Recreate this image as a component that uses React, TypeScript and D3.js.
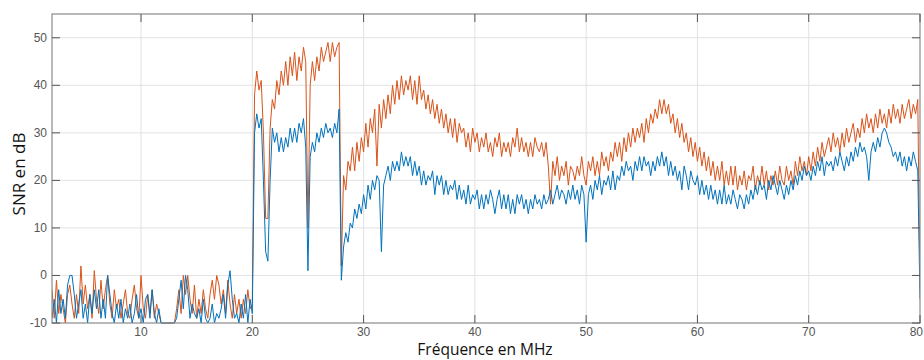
import React from "react";
import * as d3 from "d3";

// Sampling grid of the measurement (MHz)
const F_START = 2;
const F_STEP = 0.2;

// Orange series (SNR in dB), one row per MHz (5 samples each)
const orangeSNR: number[] = [
  -3, -9, -1, -8, -4, // 2
  -7, -10, -4, -2, -6, // 3
  -9, -4, -8, 2, -6, // 4
  -2, -7, -4, -9, 1, // 5
  -5, -8, -1, -7, -3, // 6
  0, -6, -9, -3, -7, // 7
  -5, -9, -6, -3, -8, // 8
  -9, -5, -2, -7, -9, // 9
  0, -7, -9, -4, -8, // 10
  -3, -9, -6, -8, -10, // 11
  -10, -10, -10, -10, -10, // 12
  -10, -7, -3, -8, 0, // 13
  -4, 0, -5, -8, -2, // 14
  -9, -5, -8, -3, -7, // 15
  -9, -4, -1, -5, 0, // 16
  -2, -6, -3, -8, -1, // 17
  -6, -9, -4, -8, -5, // 18
  -9, -5, -8, -3, -7, // 19
  -6, 38, 43, 39, 41, // 20
  30, 12, 12, 31, 37, // 21
  35, 41, 38, 43, 40, // 22
  45, 40, 46, 42, 47, // 23
  41, 46, 43, 48, 45, // 24
  10, 40, 45, 41, 46, // 25
  43, 48, 45, 47, 49, // 26
  45, 49, 46, 48, 49, // 27
  2, 21, 18, 24, 22, // 28
  27, 22, 28, 24, 29, // 29
  26, 32, 27, 33, 30, // 30
  35, 23, 36, 31, 37, // 31
  33, 38, 34, 40, 36, // 32
  41, 37, 42, 38, 41, // 33
  39, 42, 37, 41, 36, // 34
  42, 37, 39, 35, 38, // 35
  34, 37, 33, 36, 32, // 36
  35, 31, 34, 30, 33, // 37
  29, 33, 28, 32, 30, // 38
  31, 27, 30, 26, 31, // 39
  28, 30, 26, 29, 27, // 40
  30, 26, 28, 25, 29, // 41
  27, 30, 25, 28, 26, // 42
  28, 25, 29, 27, 31, // 43
  26, 29, 26, 28, 25, // 44
  28, 25, 29, 27, 26, // 45
  28, 25, 28, 23, 15, // 46
  24, 21, 25, 20, 23, // 47
  21, 24, 19, 23, 22, // 48
  20, 23, 21, 25, 21, // 49
  19, 24, 22, 25, 21, // 50
  24, 21, 26, 23, 25, // 51
  22, 26, 24, 28, 25, // 52
  28, 24, 29, 26, 30, // 53
  27, 31, 28, 31, 29, // 54
  32, 28, 33, 30, 34, // 55
  32, 35, 33, 37, 34, // 56
  37, 34, 36, 32, 34, // 57
  30, 33, 29, 32, 28, // 58
  30, 26, 29, 25, 28, // 59
  24, 27, 23, 26, 22, // 60
  25, 21, 24, 20, 23, // 61
  20, 24, 19, 22, 19, // 62
  23, 19, 23, 18, 21, // 63
  19, 22, 18, 21, 20, // 64
  23, 18, 21, 19, 23, // 65
  19, 22, 18, 21, 19, // 66
  22, 19, 23, 20, 19, // 67
  23, 20, 22, 19, 24, // 68
  21, 25, 22, 24, 21, // 69
  25, 22, 26, 23, 27, // 70
  24, 28, 25, 27, 29, // 71
  26, 30, 27, 29, 26, // 72
  30, 27, 31, 28, 30, // 73
  32, 28, 31, 29, 33, // 74
  30, 34, 31, 33, 30, // 75
  34, 31, 35, 32, 34, // 76
  31, 35, 32, 36, 33, // 77
  35, 32, 36, 33, 35, // 78
  37, 33, 36, 34, 37, // 79
  -3, // 80
];

// Blue series (SNR in dB), one row per MHz (5 samples each)
const blueSNR: number[] = [
  -9, -5, -10, -3, -8, // 2
  -5, -9, -2, 0, 0, // 3
  -4, -9, -6, -3, -9, // 4
  -6, -10, -4, -8, -3, // 5
  -7, -3, -9, -5, -9, // 6
  0, -4, -8, -10, -6, // 7
  -9, -5, -10, -7, -9, // 8
  -6, -10, -8, -4, -9, // 9
  -7, -10, -5, -4, -9, // 10
  -3, -8, -10, -7, -10, // 11
  -10, -10, -10, -10, -10, // 12
  -10, -9, -5, -1, -7, // 13
  0, -3, -9, -6, -8, // 14
  -9, -7, -10, -5, -9, // 15
  -10, -9, -6, -10, -8, // 16
  -9, -7, -4, -9, -2, // 17
  1, -5, -9, -8, -10, // 18
  -6, -9, -4, -10, -5, // 19
  -8, 30, 34, 31, 33, // 20
  20, 5, 3, 20, 31, // 21
  28, 30, 26, 29, 26, // 22
  29, 27, 31, 28, 31, // 23
  28, 32, 30, 33, 27, // 24
  1, 25, 28, 26, 30, // 25
  28, 31, 29, 32, 30, // 26
  31, 29, 32, 30, 35, // 27
  -1, 6, 9, 7, 11, // 28
  10, 14, 12, 15, 13, // 29
  17, 14, 19, 16, 20, // 30
  18, 21, 20, 5, 19, // 31
  21, 23, 20, 24, 22, // 32
  24, 22, 26, 23, 25, // 33
  23, 25, 21, 24, 21, // 34
  23, 19, 22, 19, 21, // 35
  20, 22, 17, 21, 19, // 36
  21, 17, 20, 17, 19, // 37
  18, 20, 16, 19, 16, // 38
  18, 15, 19, 15, 17, // 39
  16, 18, 14, 17, 14, // 40
  17, 15, 18, 16, 13, // 41
  16, 18, 14, 17, 14, // 42
  17, 13, 16, 13, 17, // 43
  15, 17, 14, 16, 13, // 44
  16, 14, 17, 15, 16, // 45
  14, 17, 15, 16, 18, // 46
  15, 17, 19, 16, 18, // 47
  17, 15, 18, 16, 19, // 48
  16, 18, 15, 19, 17, // 49
  7, 17, 19, 16, 20, // 50
  18, 21, 17, 20, 19, // 51
  21, 18, 22, 18, 21, // 52
  20, 23, 21, 24, 22, // 53
  23, 20, 24, 22, 25, // 54
  22, 25, 23, 24, 21, // 55
  24, 22, 25, 23, 26, // 56
  23, 25, 21, 24, 21, // 57
  23, 20, 22, 18, 23, // 58
  21, 18, 22, 20, 19, // 59
  21, 17, 20, 17, 19, // 60
  16, 19, 16, 18, 15, // 61
  18, 15, 19, 15, 17, // 62
  15, 18, 16, 14, 17, // 63
  16, 14, 17, 15, 18, // 64
  16, 19, 17, 20, 18, // 65
  19, 16, 20, 18, 21, // 66
  19, 17, 20, 18, 16, // 67
  19, 17, 20, 18, 21, // 68
  19, 22, 20, 23, 21, // 69
  22, 20, 23, 21, 24, // 70
  22, 25, 21, 24, 23, // 71
  24, 22, 25, 23, 26, // 72
  24, 22, 25, 23, 26, // 73
  24, 27, 25, 28, 26, // 74
  27, 25, 20, 26, 28, // 75
  26, 29, 27, 30, 31, // 76
  30, 28, 27, 25, 26, // 77
  24, 26, 23, 25, 22, // 78
  25, 23, 26, 24, 22, // 79
  -5, // 80
];

const xTicks = [10, 20, 30, 40, 50, 60, 70, 80];
const yTicks = [-10, 0, 10, 20, 30, 40, 50];
const xLabel = "Fréquence en MHz";
const yLabel = "SNR en dB";

const W = 924;
const H = 360;
const M = { left: 52, right: 920, top: 14, bottom: 323 };

export default function App() {
  const x = d3.scaleLinear().domain([2, 80]).range([M.left, M.right]);
  const y = d3.scaleLinear().domain([-10, 55]).range([M.bottom, M.top]);

  const mk = (vals: number[]) =>
    d3
      .line<number>()
      .x((_, i) => x(F_START + i * F_STEP))
      .y((v) => y(v))(vals) || "";

  const axisColor = "#8a8a8a";
  const gridColor = "#e2e2e2";
  const tickLen = 8;
  const tickFont = "'Liberation Sans', Arial, sans-serif";

  return (
    <svg
      width={W}
      height={H}
      style={{ position: "absolute", left: 0, top: 0, background: "#fff" }}
    >
      <defs>
        <clipPath id="plotclip">
          <rect x={M.left} y={M.top - 1} width={M.right - M.left} height={M.bottom - M.top + 2} />
        </clipPath>
      </defs>
      {/* grid */}
      {xTicks
        .filter((t) => t < 80)
        .map((t) => (
          <line key={"gx" + t} x1={x(t)} x2={x(t)} y1={M.top} y2={M.bottom} stroke={gridColor} strokeWidth={1} />
        ))}
      {yTicks
        .filter((t) => t > -10)
        .map((t) => (
          <line key={"gy" + t} x1={M.left} x2={M.right} y1={y(t)} y2={y(t)} stroke={gridColor} strokeWidth={1} />
        ))}
      {/* series */}
      <g clipPath="url(#plotclip)" fill="none" strokeWidth={1} strokeLinejoin="round">
        <path d={mk(orangeSNR)} stroke="#D95319" />
        <path d={mk(blueSNR)} stroke="#0072BD" />
      </g>
      {/* box */}
      <rect
        x={M.left}
        y={M.top}
        width={M.right - M.left}
        height={M.bottom - M.top}
        fill="none"
        stroke={axisColor}
        strokeWidth={1.2}
      />
      {/* ticks */}
      {xTicks.map((t) => (
        <g key={"xt" + t}>
          <line x1={x(t)} x2={x(t)} y1={M.bottom} y2={M.bottom - tickLen} stroke="#555" />
          <line x1={x(t)} x2={x(t)} y1={M.top} y2={M.top + tickLen} stroke="#555" />
          <text
            x={x(t)}
            y={M.bottom + 13}
            textAnchor={t === 80 ? "end" : "middle"}
            dx={t === 80 ? 3 : 0}
            fontFamily={tickFont}
            fontSize={12}
            fill="#555"
          >
            {t}
          </text>
        </g>
      ))}
      {yTicks.map((t) => (
        <g key={"yt" + t}>
          <line x1={M.left} x2={M.left + tickLen} y1={y(t)} y2={y(t)} stroke="#555" />
          <line x1={M.right} x2={M.right - tickLen} y1={y(t)} y2={y(t)} stroke="#555" />
          <text
            x={M.left - 5}
            y={y(t) + 4}
            textAnchor="end"
            fontFamily={tickFont}
            fontSize={12}
            fill="#555"
          >
            {t}
          </text>
        </g>
      ))}
      {/* axis labels */}
      <text
        x={485}
        y={355}
        textAnchor="middle"
        fontFamily="'Open Sans', sans-serif"
        fontSize={15.5}
        fill="#111"
      >
        {xLabel}
      </text>
      <text
        transform={`translate(25, 174) rotate(-90)`}
        textAnchor="middle"
        fontFamily="'Open Sans', sans-serif"
        fontSize={17}
        fill="#111"
      >
        {yLabel}
      </text>
    </svg>
  );
}
